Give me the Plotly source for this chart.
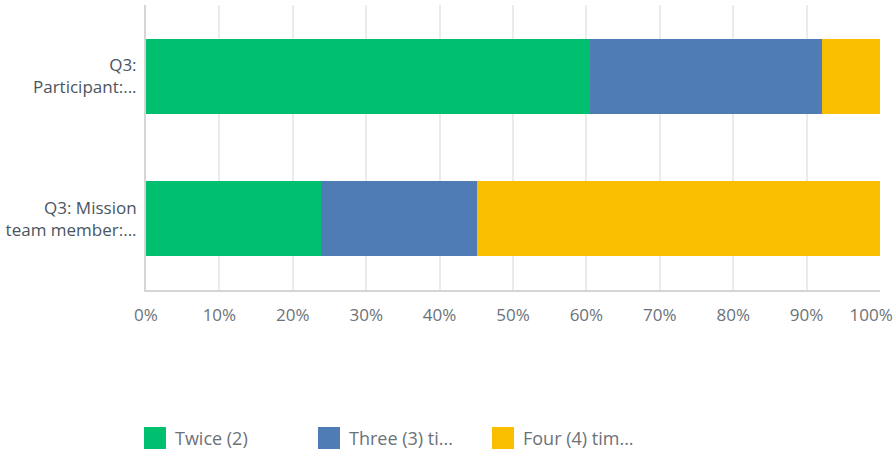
import plotly.graph_objects as go

categories = ["Q3: Mission<br>team member:...", "Q3:<br>Participant:..."]
series_names = ["Twice (2)", "Three (3) ti...", "Four (4) tim..."]
twice = [23.8, 60.5]
three = [21.3, 31.6]
four = [54.9, 7.9]
colors = ["#00BF6F", "#507CB6", "#F9BE00"]
tick_vals = [0, 10, 20, 30, 40, 50, 60, 70, 80, 90, 100]
tick_text = [f"{v}%" for v in tick_vals]
tick_text[-1] = tick_text[-1] + "&nbsp;" * 4

fig = go.Figure()
for name, vals, col in zip(series_names, [twice, three, four], colors):
    fig.add_trace(go.Bar(y=categories, x=vals, name=name, orientation="h",
                         marker=dict(color=col, line=dict(width=0)),
                         showlegend=False, hoverinfo="skip"))

W, H = 894, 455
ml, mr, mt, mb = 146, 14, 5, 165
pw = W - ml - mr
ph = H - mt - mb

fig.update_layout(
    width=W, height=H, barmode="stack", bargap=0.474,
    margin=dict(l=ml, r=mr, t=mt, b=mb, pad=0, autoexpand=False),
    plot_bgcolor="white", paper_bgcolor="white",
    font=dict(family="Open Sans", size=17, color="#6B7278"),
    xaxis=dict(range=[0, 100], tickvals=tick_vals, ticktext=tick_text,
               showgrid=True, gridcolor="#EBEBEB", gridwidth=1.5,
               zeroline=False, showline=True, linecolor="#D5D5D5", linewidth=2,
               ticks="outside", ticklen=9, tickcolor="rgba(0,0,0,0)",
               ticklabeloverflow="allow",
               tickfont=dict(size=17, color="#6B7278")),
    yaxis=dict(showline=True, linecolor="#D5D5D5", linewidth=2,
               ticks="outside", ticklen=4, tickcolor="rgba(0,0,0,0)",
               tickfont=dict(size=17, color="#4A5560")),
)

# custom legend
leg_x = [144, 318, 492]
leg_y = 438
for name, col, lx in zip(series_names, colors, leg_x):
    x0 = (lx - ml) / pw
    x1 = (lx + 22 - ml) / pw
    y0 = (H - mb - (leg_y + 11)) / ph
    y1 = (H - mb - (leg_y - 11)) / ph
    fig.add_shape(type="rect", xref="paper", yref="paper", x0=x0, x1=x1, y0=y0, y1=y1,
                  fillcolor=col, line=dict(width=0), layer="above")
    fig.add_annotation(xref="paper", yref="paper", x=(lx + 29 - ml) / pw,
                       y=(H - mb - leg_y) / ph, text=name, showarrow=False,
                       xanchor="left", yanchor="middle",
                       font=dict(size=18, color="#6B7278"))

fig.write_html("out.html", config={"displayModeBar": False},
               post_script="document.body.style.margin='0';document.body.style.overflow='hidden';")
